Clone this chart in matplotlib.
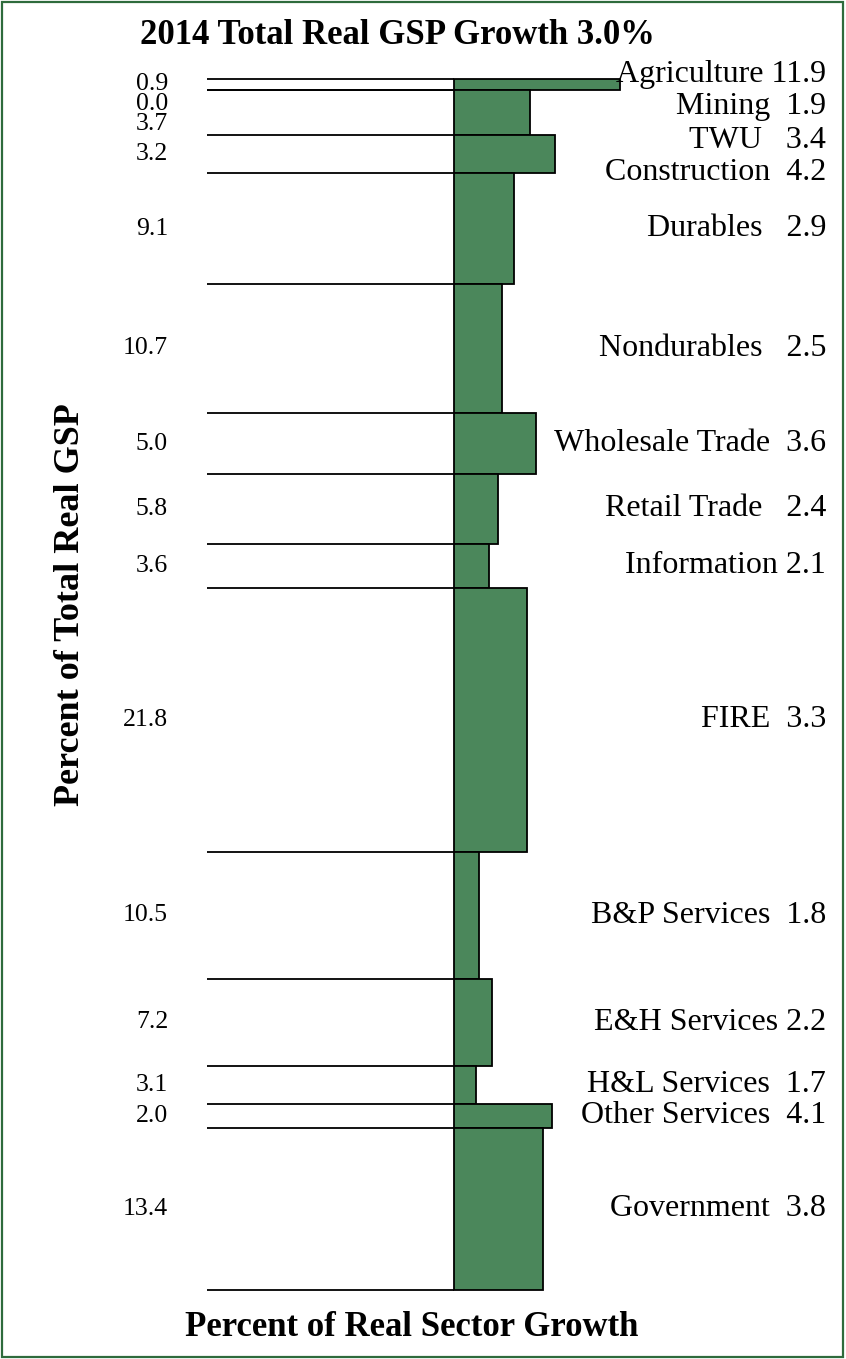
import numpy as np
import matplotlib
matplotlib.use("Agg")
import matplotlib.pyplot as plt
from matplotlib.patches import Rectangle
from matplotlib import transforms

# sector data (share of total real GSP and real growth, percent)
sectors = ["Agriculture", "Mining", "TWU", "Construction", "Durables", "Nondurables",
           "Wholesale Trade", "Retail Trade", "Information", "FIRE", "B&P Services",
           "E&H Services", "H&L Services", "Other Services", "Government"]
share = [0.9, 0.0, 3.7, 3.2, 9.1, 10.7, 5.0, 5.8, 3.6, 21.8, 10.5, 7.2, 3.1, 2.0, 13.4]
growth = [11.9, 1.9, 3.4, 4.2, 2.9, 2.5, 3.6, 2.4, 2.1, 3.3, 1.8, 2.2, 1.7, 4.1, 3.8]
year = 2014
total_growth = 3.0

# layout only: spaces between name and value, label nudges (in share units)
label_gap = [1, 2, 3, 2, 3, 3, 2, 3, 1, 2, 2, 1, 2, 2, 2]
right_nudge = [-0.86, 1.41, 2.29, 1.56, 0, 0, 0, 0, 0, 0, 0, 0, 0, 0, 0]
left_nudge = [0.0, 1.16, 0.97, 0, 0, 0, 0, 0, 0, 0, 0, 0, 0, 0, 0]

plt.rcParams['font.family'] = ['Liberation Serif', 'DejaVu Serif']

W, H = 846, 1359
fig = plt.figure(figsize=(W / 100, H / 100), dpi=100)

bar_green = '#4b875b'
x_lo, x_hi = 1.0, 6.24

top_px, bot_px = 79, 1290
ax_bar = fig.add_axes([454 / W, 1 - bot_px / H, (620 - 454) / W, (bot_px - top_px) / H])
ax_line = fig.add_axes([207 / W, 1 - bot_px / H, (454 - 207) / W, (bot_px - top_px) / H],
                       sharey=ax_bar)

share_arr = np.array(share)
growth_arr = np.array(growth)
bounds = np.concatenate([[0], np.cumsum(share_arr)])
centers = bounds[:-1] + share_arr / 2

# bars start at the axis minimum, Agriculture is cut at the axis maximum
ax_bar.barh(centers, np.minimum(growth_arr, x_hi) - x_lo, left=x_lo, height=share_arr,
            color=bar_green, edgecolor='black', linewidth=1.3, clip_on=False)
ax_bar.set_xlim(x_lo, x_hi)
ax_bar.set_ylim(bounds[-1], 0)
ax_bar.axis('off')

ax_line.hlines(bounds, 0, 1, color='black', linewidth=1.3, clip_on=False)
ax_line.set_xlim(0, 1)
ax_line.axis('off')

trans = transforms.blended_transform_factory(fig.transFigure, ax_bar.transData)
for i, name in enumerate(sectors):
    ax_bar.text(168 / W, centers[i] + left_nudge[i], f"{share[i]:.1f}", transform=trans,
                ha='right', va='center', fontsize=18.5, clip_on=False)
    label = name + " " * label_gap[i] + f"{growth[i]:.1f}"
    ax_bar.text(826 / W, centers[i] + right_nudge[i], label, transform=trans,
                ha='right', va='center', fontsize=23, clip_on=False)

fig.text(397 / W, 1 - 35 / H, f"{year} Total Real GSP Growth {total_growth:.1f}%",
         ha='center', va='center', fontsize=25, fontweight='bold')
fig.text(412 / W, 1 - 1327 / H, "Percent of Real Sector Growth",
         ha='center', va='center', fontsize=25, fontweight='bold')
fig.text(71 / W, 1 - 605 / H, "Percent of Total Real GSP", rotation=90,
         ha='center', va='center', fontsize=26, fontweight='bold')

# green frame around the whole picture
fig.patches.append(Rectangle((2 / W, 2 / H), 841 / W, 1355 / H, transform=fig.transFigure,
                             fill=False, edgecolor='#2e6b3c', linewidth=1.6))

fig.savefig('out.png', dpi=100)
